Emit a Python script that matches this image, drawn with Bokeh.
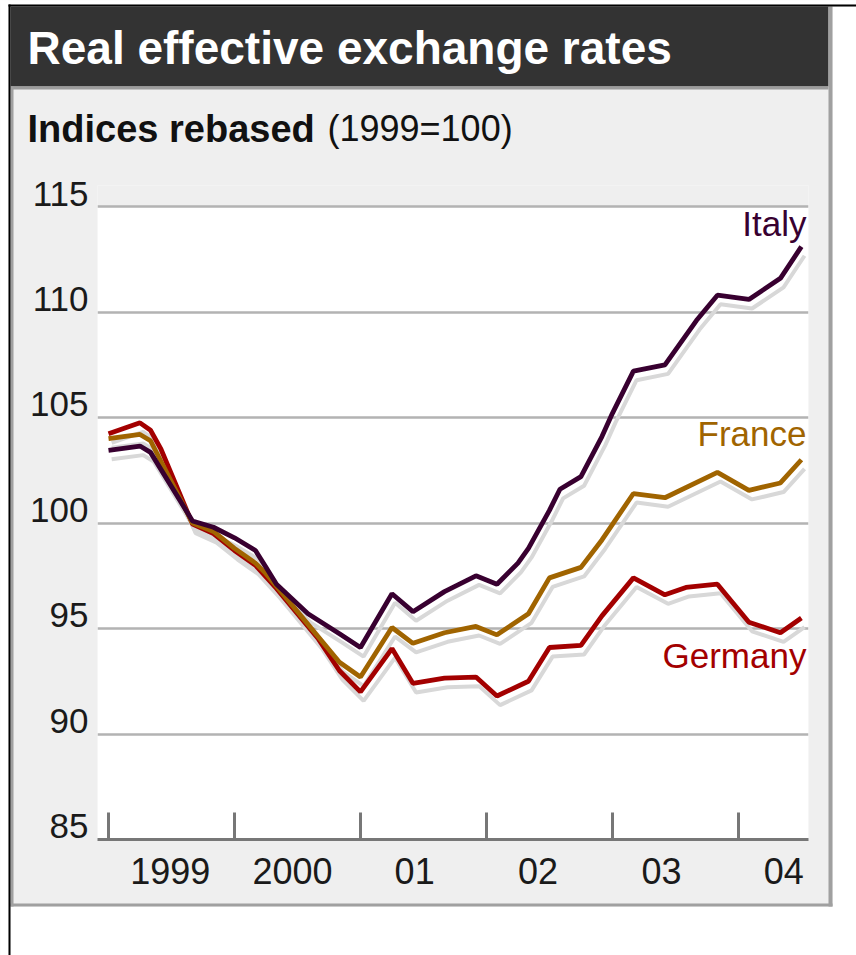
from bokeh.plotting import figure
from bokeh.models import (Range1d, LinearAxis, FixedTicker, Grid, BoxAnnotation,
                          ColumnDataSource)
from bokeh.transform import dodge
from bokeh.core.properties import value
from bokeh.embed import file_html
from bokeh.resources import INLINE

# ---------------- data (months since Jan 1999) ----------------
italy_months = [0, 3, 4, 8, 10, 12, 14, 15, 16, 19, 22, 24, 27, 29, 32, 35, 37,
                39, 40, 42, 43, 45, 47, 48, 50, 53, 55, 56, 58, 61, 64, 66]
italy = [103.45, 103.65, 103.35, 100.1, 99.8, 99.3, 98.7, 97.9, 97.1, 95.7, 94.75,
         94.1, 96.65, 95.8, 96.75, 97.5, 97.1, 98.1, 98.8, 100.6, 101.6, 102.2,
         104.1, 105.2, 107.2, 107.5, 108.9, 109.6, 110.8, 110.6, 111.6, 113.1]

france_months = [0, 3, 4, 8, 10, 12, 14, 15, 16, 18, 20, 22, 24, 27, 29, 32, 35,
                 37, 40, 42, 45, 47, 50, 53, 58, 61, 64, 66]
france = [104.0, 104.2, 103.9, 100.0, 99.6, 98.8, 98.1, 97.6, 97.0, 95.8, 94.6,
          93.4, 92.7, 95.05, 94.3, 94.8, 95.1, 94.7, 95.7, 97.4, 97.9, 99.2,
          101.4, 101.2, 102.4, 101.55, 101.9, 103.0]

germany_months = [0, 3, 4, 5, 8, 10, 12, 14, 16, 18, 20, 22, 24, 27, 29, 32, 35,
                  37, 40, 42, 45, 47, 50, 53, 55, 58, 61, 64, 66]
germany = [104.23, 104.75, 104.4, 103.5, 99.95, 99.5, 98.7, 98.0, 96.9, 95.7,
           94.5, 93.0, 92.0, 94.05, 92.4, 92.65, 92.7, 91.8, 92.5, 94.1, 94.2,
           95.6, 97.4, 96.6, 96.95, 97.1, 95.3, 94.8, 95.5]

series_names = ["Germany", "France", "Italy"]
series_colors = ["#a30000", "#a06400", "#380030"]

y_ticks = [85, 90, 95, 100, 105, 110, 115]
grid_ticks = [90, 95, 100, 105, 110, 115]
year_ticks = [1999, 2000, 2001, 2002, 2003, 2004]
x_label_pos = [1999.49, 2000.46, 2001.43, 2002.41, 2003.39, 2004.36]
x_labels = ["1999", "2000", "01", "02", "03", "04"]

title_text = "Real effective exchange rates"
subtitle_bold = "Indices rebased"
subtitle_rest = "(1999=100)"

label_pos_x = 2004.54
label_pos_y = {"Italy": 114.18, "France": 104.23, "Germany": 93.7}

FONT = "Liberation Sans"

# ---------------- figure ----------------
W, H = 856, 955
FL, FR, FT, FB = 97, 808, 185, 839  # frame edges in page px

p = figure(width=W, height=H, output_backend="svg", toolbar_location=None,
           x_range=Range1d(1998.9126, 2004.5564), y_range=Range1d(85, 116),
           x_axis_location=None, y_axis_location=None,
           min_border_left=FL, min_border_right=W - FR,
           min_border_top=FT, min_border_bottom=H - FB)
p.background_fill_color = "#efefef"
p.border_fill_color = "#efefef"
p.outline_line_color = None
p.xgrid.visible = False
p.ygrid.visible = False

# pixel ranges for the panel decoration (data value == page pixel)
p.extra_x_ranges = {"px": Range1d(FL, FR)}
p.extra_y_ranges = {"py": Range1d(FB, FT), "lab": Range1d(85 - 0.62, 116 - 0.62)}

# white plotting area
p.add_layout(BoxAnnotation(bottom=85, top=115, fill_color="white", fill_alpha=1,
                           line_color=None, level="underlay"))

p.add_layout(Grid(dimension=1, ticker=FixedTicker(ticks=grid_ticks),
                  grid_line_color="#b3b3b3", grid_line_width=2.5))

# x axis: year boundary ticks inward, labels mid-year
xaxis = LinearAxis(ticker=FixedTicker(ticks=x_label_pos, minor_ticks=year_ticks),
                   major_label_overrides=dict(zip(x_label_pos, x_labels)))
xaxis.axis_line_color = "#777777"
xaxis.axis_line_width = 3
xaxis.major_tick_line_color = None
xaxis.major_tick_in = 0
xaxis.major_tick_out = 0
xaxis.minor_tick_in = 27
xaxis.minor_tick_out = 0
xaxis.minor_tick_line_color = "#777777"
xaxis.minor_tick_line_width = 3
xaxis.major_label_standoff = 18
xaxis.major_label_text_font = FONT
xaxis.major_label_text_font_size = "36px"
xaxis.major_label_text_color = "#1a1a1a"
p.add_layout(xaxis, "below")

# y axis labels sit just above their gridlines
yaxis = LinearAxis(y_range_name="lab", ticker=FixedTicker(ticks=y_ticks))
yaxis.axis_line_color = None
yaxis.major_tick_line_color = None
yaxis.minor_tick_line_color = None
yaxis.major_tick_in = 0
yaxis.major_tick_out = 0
yaxis.major_label_standoff = 9
yaxis.major_label_text_font = FONT
yaxis.major_label_text_font_size = "35px"
yaxis.major_label_text_color = "#1a1a1a"
p.add_layout(yaxis, "left")

data = {"Germany": (germany_months, germany),
        "France": (france_months, france),
        "Italy": (italy_months, italy)}
sources = {}
for name in series_names:
    m, v = data[name]
    sources[name] = ColumnDataSource(dict(x=[1999 + mm / 12 for mm in m], y=v))

for name in series_names:
    p.line(x=dodge("x", 0.025), y=dodge("y", -0.43), source=sources[name],
           line_color="#d8d8d8", line_width=4)
for name, col in zip(series_names, series_colors):
    p.line(x="x", y="y", source=sources[name], line_color=col, line_width=4.8)

lab_src = ColumnDataSource(dict(
    x=[label_pos_x] * 3,
    y=[label_pos_y[n] for n in series_names],
    t=series_names, c=series_colors))
p.text(x="x", y="y", text="t", text_color="c", source=lab_src,
       text_align="right", text_baseline="alphabetic",
       text_font=value(FONT), text_font_size="35px")

# ---------------- panel decoration, in page pixels ----------------
boxes = [
    (0, 0, 856, 4, "white"),
    (0, 0, 8, 955, "white"),
    (832, 6, 856, 955, "white"),
    (10, 906, 856, 955, "white"),
    (10, 6, 828, 86, "#333333"),
    (10, 86, 828, 89, "#9c9c9c"),
    (828, 6, 832, 906, "#a0a0a0"),
    (10, 903, 832, 906, "#a0a0a0"),
    (10, 86, 13, 906, "#a0a0a0"),
    (8, 4, 10, 955, "black"),
    (8, 4, 856, 6, "black"),
]
box_src = ColumnDataSource(dict(
    l=[b[0] for b in boxes], t=[b[1] for b in boxes],
    r=[b[2] for b in boxes], b=[b[3] for b in boxes], c=[b[4] for b in boxes]))
p.quad(left="l", right="r", top="t", bottom="b", fill_color="c",
       line_color=None, source=box_src, x_range_name="px", y_range_name="py",
       level="overlay")

txt_src = ColumnDataSource(dict(
    x=[27, 27, 327], y=[47, 128, 128],
    t=[title_text, subtitle_bold, subtitle_rest],
    c=["white", "#111111", "#111111"],
    s=["46px", "38px", "36px"],
    st=["bold", "bold", "normal"]))
p.text(x="x", y="y", text="t", text_color="c", text_font_size="s",
       text_font_style="st", text_font=value(FONT), text_baseline="alphabetic",
       source=txt_src, x_range_name="px", y_range_name="py", level="overlay")

open("out.html", "w").write(file_html(p, INLINE))
